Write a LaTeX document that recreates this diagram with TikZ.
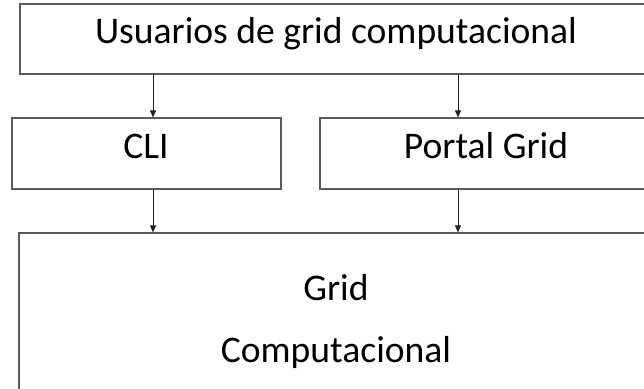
\documentclass[tikz,border=0pt]{standalone}
\usepackage{fontspec}
\setmainfont{Carlito}
\usetikzlibrary{arrows.meta}
\definecolor{boxline}{HTML}{5A5A5A}
\definecolor{arrline}{HTML}{222222}
\begin{document}
\begin{tikzpicture}[x=1pt,y=-1pt,
  box/.style={draw=boxline,line width=1.2pt,rectangle,inner sep=0pt},
  lbl/.style={anchor=base,inner sep=0pt,font=\fontsize{37.6}{42}\selectfont,text=black},
  arr/.style={draw=arrline,line width=0.8pt,-{Triangle[length=7pt,width=6pt]}}]
\useasboundingbox (0,0) rectangle (644,388);
\clip (0,0) rectangle (644,388);
\fill[white] (0,0) rectangle (644,388);
% boxes
\node[box,minimum width=632pt,minimum height=70pt] (top) at (336,39) {};
\node[box,minimum width=269pt,minimum height=71pt] (cli) at (146.5,153.5) {};
\node[box,minimum width=332pt,minimum height=71pt] (portal) at (486,153.5) {};
\node[box,minimum width=633pt,minimum height=200pt] (grid) at (335.5,333) {};
% texts
\node[lbl] (ttop) at (336,43) {Usuarios de grid computacional};
\node[lbl] (tcli) at (146,158) {CLI};
\node[lbl] (tportal) at (486,158) {Portal Grid};
\node[lbl] (tgrid) at (336,300) {Grid};
\node[lbl] (tcomp) at (336,362) {Computacional};
% arrow columns
\coordinate (ca) at (153,0);
\coordinate (cb) at (458,0);
\draw[arr] (top.south -| ca) -- (cli.north -| ca);
\draw[arr] (top.south -| cb) -- (portal.north -| cb);
\draw[arr] (cli.south -| ca) -- (grid.north -| ca);
\draw[arr] (portal.south -| cb) -- (grid.north -| cb);
\end{tikzpicture}
\end{document}
